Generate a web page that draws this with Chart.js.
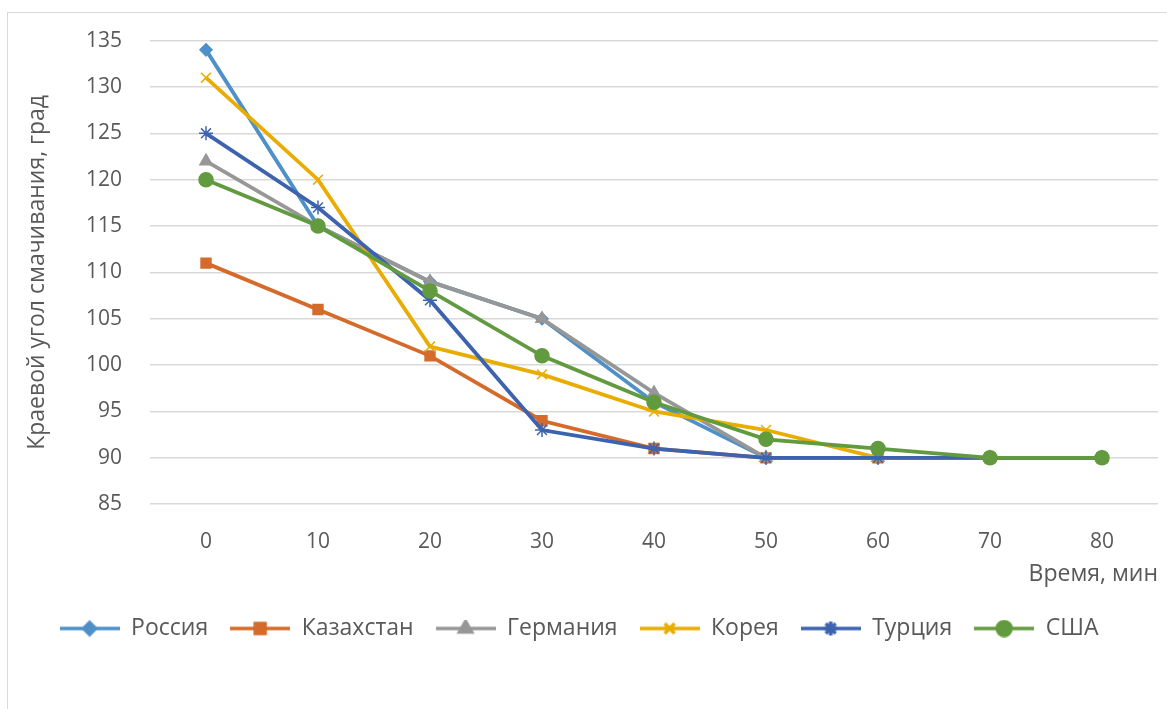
<!DOCTYPE html>
<html>
<head>
<meta charset="utf-8">
<script src="https://cdn.jsdelivr.net/npm/chart.js@4/dist/chart.umd.min.js"></script>
<style>
  body { margin: 0; background: #fff; }
  #marco { position: absolute; left: 7px; top: 12px; width: 1200px; height: 760px; border-left: 1px solid #d9d9d9; border-top: 1px solid #d9d9d9; }
  #lienzo { position: absolute; left: 0; top: 0; }
</style>
</head>
<body>
<div id="marco"></div>
<canvas id="lienzo" width="1167" height="709"></canvas>
<script>
// Datos del grafico
const minutos = ['0', '10', '20', '30', '40', '50', '60', '70', '80']
const paises = ['Россия', 'Казахстан', 'Германия', 'Корея', 'Турция', 'США']
const rusia = [134, 115, 109, 105, 96, 90, 90, 90, 90]
const kazajstan = [111, 106, 101, 94, 91, 90, 90, 90, 90]
const alemania = [122, 115, 109, 105, 97, 90, 90, 90, 90]
const corea = [131, 120, 102, 99, 95, 93, 90, 90, 90]
const turquia = [125, 117, 107, 93, 91, 90, 90, 90, 90]
const eeuu = [120, 115, 108, 101, 96, 92, 91, 90, 90]
const valores = [rusia, kazajstan, alemania, corea, turquia, eeuu]

const colores = ['#4e90c8', '#d56b2b', '#979797', '#e8ad00', '#3d63ae', '#629b3f']
const marcadores = ['rectRot', 'rect', 'triangle', 'crossRot', 'star', 'circle']
const radios = [6, 7, 7, 7, 7, 7]
const fuente = "'Open Sans', 'Noto Sans', sans-serif"

// Imagen de leyenda: linea + marcador
const iconoLeyenda = i => {
    const c = document.createElement('canvas')
    c.width = 60
    c.height = 18
    const g = c.getContext('2d')
    g.strokeStyle = colores[i]
    g.fillStyle = colores[i]
    g.lineWidth = 3.5
    g.beginPath()
    g.moveTo(0, 9)
    g.lineTo(60, 9)
    g.stroke()
    Chart.helpers.drawPoint(g, { pointStyle: marcadores[i], radius: radios[i], rotation: 0, borderWidth: 1.5 }, 30, 9)
    return c
}

const datasets = paises.map((nombre, i) => ({
    label: nombre,
    data: valores[i],
    borderColor: colores[i],
    backgroundColor: colores[i],
    borderWidth: 3.8,
    pointStyle: marcadores[i],
    pointRadius: radios[i],
    pointBorderWidth: 1.5,
    tension: 0,
    order: paises.length - i
}))

new Chart(document.getElementById('lienzo'), {
    type: 'line',
    data: { labels: minutos, datasets },
    options: {
        responsive: false,
        animation: false,
        layout: { padding: { left: 0, right: 9, top: 35, bottom: 59 } },
        plugins: {
            tooltip: { enabled: false },
            legend: {
                position: 'bottom',
                labels: {
                    usePointStyle: true,
                    pointStyleWidth: 60,
                    padding: 22,
                    color: '#595959',
                    font: { family: fuente, size: 23 },
                    generateLabels: chart => chart.data.datasets.map((d, i) => ({
                        text: d.label,
                        pointStyle: iconoLeyenda(i),
                        fontColor: '#595959',
                        lineWidth: 0,
                        datasetIndex: i
                    }))
                }
            }
        },
        scales: {
            x: {
                offset: true,
                grid: { display: false },
                border: { display: false },
                ticks: { color: '#595959', padding: 17, font: { family: fuente, size: 21 } },
                title: { display: true, text: 'Время, мин', align: 'end', color: '#595959', font: { family: fuente, size: 23 }, padding: { top: -11, bottom: 7 } }
            },
            y: {
                min: 85,
                max: 135,
                ticks: { stepSize: 5, color: '#595959', padding: 28, font: { family: fuente, size: 21 } },
                grid: { color: '#d9d9d9', lineWidth: 1.5, drawTicks: false },
                border: { display: false },
                title: { display: true, text: 'Краевой угол смачивания, град', color: '#595959', font: { family: fuente, size: 23 }, padding: { top: 24, bottom: 0 } },
                afterFit: escala => { escala.width = 150 }
            }
        }
    }
})
</script>
</body>
</html>
